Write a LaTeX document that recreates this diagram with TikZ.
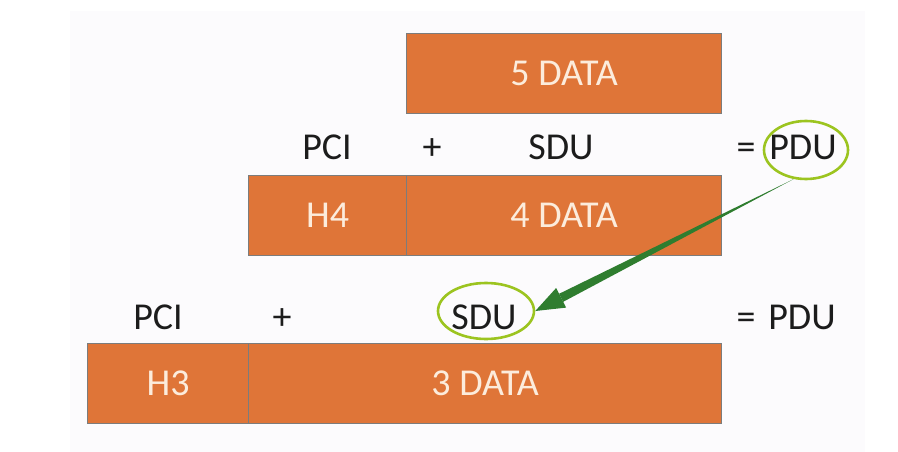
\documentclass[tikz,border=0pt]{standalone}
\usepackage{fontspec}
\setmainfont{Carlito}
\usetikzlibrary{arrows.meta, calc, shapes.geometric}
\definecolor{slidebg}{HTML}{FCFBFD}
\definecolor{hdrorange}{HTML}{DF7538}
\definecolor{edgegray}{HTML}{7C7C7C}
\definecolor{boxcream}{HTML}{FCECDC}
\definecolor{inkblack}{HTML}{1C1C1C}
\definecolor{ringlime}{HTML}{9CC420}
\definecolor{arrowgreen}{HTML}{2F7D2F}

\begin{document}
\begin{tikzpicture}[x=1pt, y=-1pt,
  pdubox/.style={draw=edgegray, line width=1.2pt, fill=hdrorange,
    text=boxcream, font=\fontsize{38}{44}\selectfont,
    minimum height=80pt, inner sep=0pt, anchor=north west},
  word/.style={text=inkblack, font=\fontsize{38}{44}\selectfont,
    inner sep=0pt, anchor=base},
  ring/.style={ellipse, draw=ringlime, line width=2.6pt, inner sep=0pt}]

% Canvas
\useasboundingbox (0,0) rectangle (898,452);
\fill[white] (0,0) rectangle (898,452);
\fill[slidebg] (70,11) rectangle (865,452);

% === Layer 5 ===
\node[pdubox, minimum width=315pt] (d5) at (406,33) {5 DATA};

% === Layer 4: PCI + SDU = PDU ===
\node[word] (pci4)  at (327,159) {PCI};
\node[word] (plus4) at (432,159) {+};
\node[word] (sdu4)  at (561,159) {SDU};
\node[word] (eq4)   at (746,159) {=};
\node[word] (pdu4)  at (803,159) {PDU};

\node[pdubox, minimum width=158pt] (h4) at (248,175) {H4};
\node[pdubox, minimum width=315pt] (d4) at (406,175) {4 DATA};

% === Layer 3: PCI + SDU = PDU ===
\node[word] (pci3)  at (158,329) {PCI};
\node[word] (plus3) at (282,329) {+};
\node[word] (sdu3)  at (484,329) {SDU};
\node[word] (eq3)   at (746,329) {=};
\node[word] (pdu3)  at (802,329) {PDU};

\node[pdubox, minimum width=161pt] (h3) at (87,343) {H3};
\node[pdubox, minimum width=473pt] (d3) at (248,343) {3 DATA};

% Highlight rings
\node[ring, minimum width=84pt, minimum height=58pt] (ring4) at (806,150) {};
\node[ring, minimum width=96pt, minimum height=56pt] (ring3) at (486,311) {};

% --- PDU of layer 4 becomes SDU of layer 3 (tapered arrow) ---
\coordinate (tail) at (ring4.247);
\coordinate (tip)  at (ring3.east);
\coordinate (hb)   at ($(tip)!29pt!(tail)$);
\fill[arrowgreen] (tail) -- ($(hb)!4.5pt!90:(tail)$) -- ($(hb)!4.5pt!-90:(tail)$) -- cycle;
\fill[arrowgreen] ($(hb)!11pt!90:(tail)$) -- (tip) -- ($(hb)!11pt!-90:(tail)$) -- cycle;

\end{tikzpicture}
\end{document}
